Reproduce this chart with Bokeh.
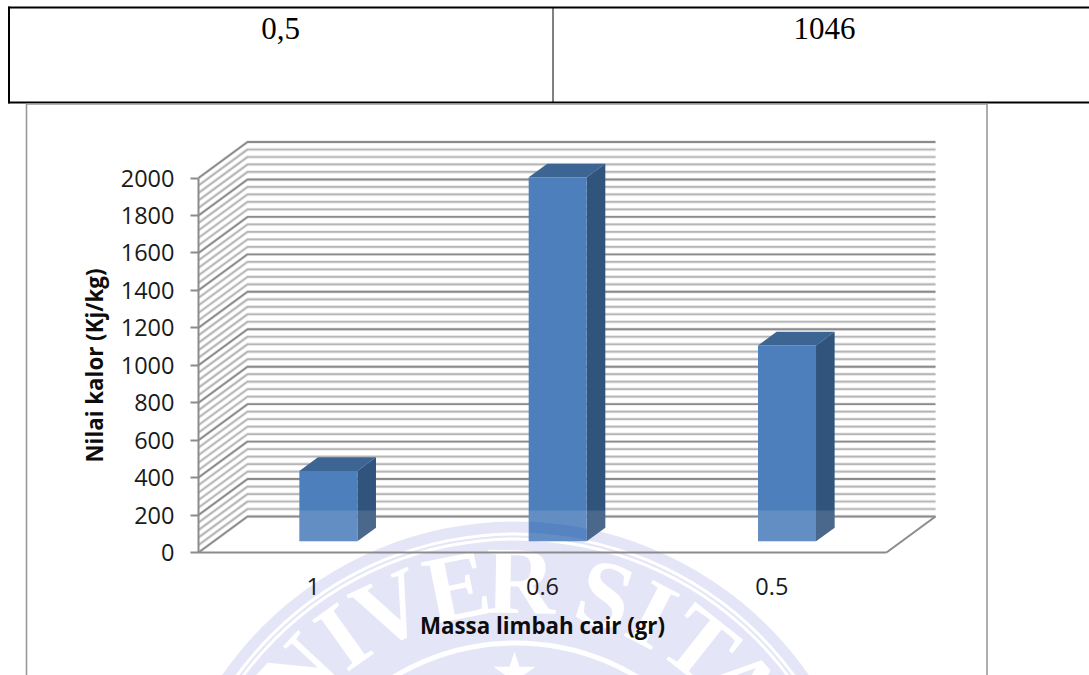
import math
from bokeh.plotting import figure
from bokeh.models import Range1d, LinearAxis, FixedTicker
from bokeh.core.properties import value
from bokeh.embed import file_html
from bokeh.resources import INLINE

# ---- data ----
categories = ["1", "0.6", "0.5"]
heat_values = [376, 1944, 1046]
y_ticks = [0, 200, 400, 600, 800, 1000, 1200, 1400, 1600, 1800, 2000]
grid_minor_step = 40
table_cells = ["0,5", "1046"]
x_title = "Massa limbah cair (gr)"
y_title = "Nilai kalor (Kj/kg)"
wm_letters = ["N", "I", "V", "E", "R", "S", "I", "T", "A"]
wm_angles = [-47, -35.5, -25, -11.4, 1, 17.6, 27.4, 38.3, 49.6]

# ---- layout ----
W, H = 1089, 675
OFF = 0
X0, Y0 = 198.0, 552.0       # picture pixel of category 0 / value 0
PX_CAT = 229.33             # px per category
PX_VAL = 0.18725            # px per value unit
DX, DY = 49 / PX_CAT, 36 / PX_VAL   # depth of the 3-D box in data units

def xd(px): return (px - X0) / PX_CAT
def yd(py): return (Y0 - py) / PX_VAL

p = figure(width=W, height=H, output_backend="svg", toolbar_location=None,
           x_range=Range1d(xd(OFF), xd(OFF + W)), y_range=Range1d(yd(OFF + H), yd(OFF)),
           x_axis_type=None, y_axis_type=None, min_border=0)
p.grid.visible = False
p.outline_line_color = None
p.background_fill_color = "white"
p.border_fill_color = "white"

# ---- watermark ----
CX, CY = 515, 878
LAV = "#e5e5f8"
def ring(r1, r0, color):
    p.annulus(x=[xd(CX)], y=[yd(CY)], inner_radius=r0, outer_radius=r1,
              inner_radius_units="screen", outer_radius_units="screen",
              fill_color=color, line_color=None)
ring(357, 0, LAV)
ring(346, 343, "white")
ring(341, 338, "white")
ring(238, 233, "white")
for ch, a in zip(wm_letters, wm_angles):
    t = math.radians(a)
    r = 298
    p.text(x=[xd(CX + r * math.sin(t))], y=[yd(CY - r * math.cos(t))], text=[ch], angle=-t,
           text_align="center", text_baseline="middle", text_color="white",
           text_font=value("Liberation Serif"), text_font_style="bold", text_font_size="96px")
p.scatter(x=[xd(514)], y=[yd(673)], marker="star", size=44, fill_color="white", line_color=None)

# ---- table and chart border ----
def seg(xs, ys, color, width):
    p.line([xd(v) for v in xs], [yd(v) for v in ys], line_color=color, line_width=width)
seg([8, 1089], [7, 7], "black", 2)
seg([8, 1089], [102, 102], "black", 2)
seg([8.5, 8.5], [6, 103], "black", 2)
seg([552.5, 552.5], [7, 102], "black", 1)
seg([26, 26, 986.5, 986.5], [675, 103.5, 103.5, 675], "#999999", 1.6)
for txt, cx in zip(table_cells, [280, 824]):
    p.text(x=[xd(cx)], y=[yd(28)], text=[txt], text_align="center", text_baseline="middle",
           text_color="black", text_font=value("Liberation Serif"), text_font_size="31px")

# ---- walls ----
n = len(categories)
grid_vals = list(range(0, y_ticks[-1] + 1, grid_minor_step))
minor = [v for v in grid_vals if v not in y_ticks]
def wall(vals, color, width, alpha=1.0):
    p.multi_line([[0, DX, n + DX] for v in vals], [[v, v + DY, v + DY] for v in vals],
                 line_color=color, line_width=width, line_alpha=alpha)
wall(grid_vals, "#d8d8d8", 3.4, 0.6)
wall(minor, "#b6b6b6", 1.7)
wall(y_ticks, "#8b8b8b", 1.9)
p.line([n + DX, n], [DY, 0], line_color="#8b8b8b", line_width=2)

# ---- bars ----
HW = 29 / PX_CAT
D0, D1 = 0.31, 0.69
for i, v in enumerate(heat_values):
    c = i + 0.5
    l = c - HW + D0 * DX
    r = c + HW + D0 * DX
    b = D0 * DY
    dx = (D1 - D0) * DX
    dy = (D1 - D0) * DY
    p.patch([l, r, r + dx, l + dx], [b + v, b + v, b + v + dy, b + v + dy], fill_color="#3d6594", line_color=None)
    p.patch([r, r + dx, r + dx, r], [b, b + dy, b + v + dy, b + v], fill_color="#31547d", line_color=None)
    p.patch([l, r, r, l], [b, b, b + v, b + v], fill_color="#4d7fbc", line_color=None)
    # lighter reflection of the floor on the lower part of the bar
    top = yd(510)
    p.patch([l, r, r + dx, r + dx, r, l], [b, b, b + dy, top, top, top],
            fill_color="white", fill_alpha=0.12, line_color=None)

# watermark ring seen through the tallest bar
p.annular_wedge(x=[xd(CX)], y=[yd(CY)], inner_radius=346, outer_radius=357,
                inner_radius_units="screen", outer_radius_units="screen",
                start_angle=math.radians(78), end_angle=math.radians(87.7),
                fill_color="#2f5fb8", fill_alpha=0.22, line_color=None)

# ---- axes ----
yax = LinearAxis(fixed_location=0, ticker=FixedTicker(ticks=y_ticks), bounds=(0, y_ticks[-1]),
                 axis_label=y_title)
xax = LinearAxis(fixed_location=0, ticker=FixedTicker(ticks=[i + 0.5 for i in range(n)]), bounds=(0, n),
                 axis_label=x_title,
                 major_label_overrides={i + 0.5: c for i, c in enumerate(categories)})
for ax in (xax, yax):
    ax.axis_line_color = "#8b8b8b"
    ax.axis_line_width = 2
    ax.major_tick_line_color = "#8b8b8b"
    ax.major_tick_line_width = 2
    ax.major_tick_in = 0
    ax.minor_tick_line_color = None
    ax.major_label_text_font = "Open Sans"
    ax.major_label_text_font_size = "23.5px"
    ax.major_label_text_color = "#1a1a1a"
    ax.axis_label_text_font = "Open Sans"
    ax.axis_label_text_font_style = "bold"
    ax.axis_label_text_font_size = "22.3px"
    ax.axis_label_text_color = "#0d0d0d"
yax.major_tick_out = 8
yax.major_label_standoff = 16
yax.axis_label_standoff = 8
xax.major_tick_line_color = None
xax.major_tick_out = 0
xax.major_label_standoff = 25
xax.axis_label_standoff = 12
p.add_layout(yax, "left")
p.add_layout(xax, "below")

open("out.html", "w").write(file_html(p, INLINE))
